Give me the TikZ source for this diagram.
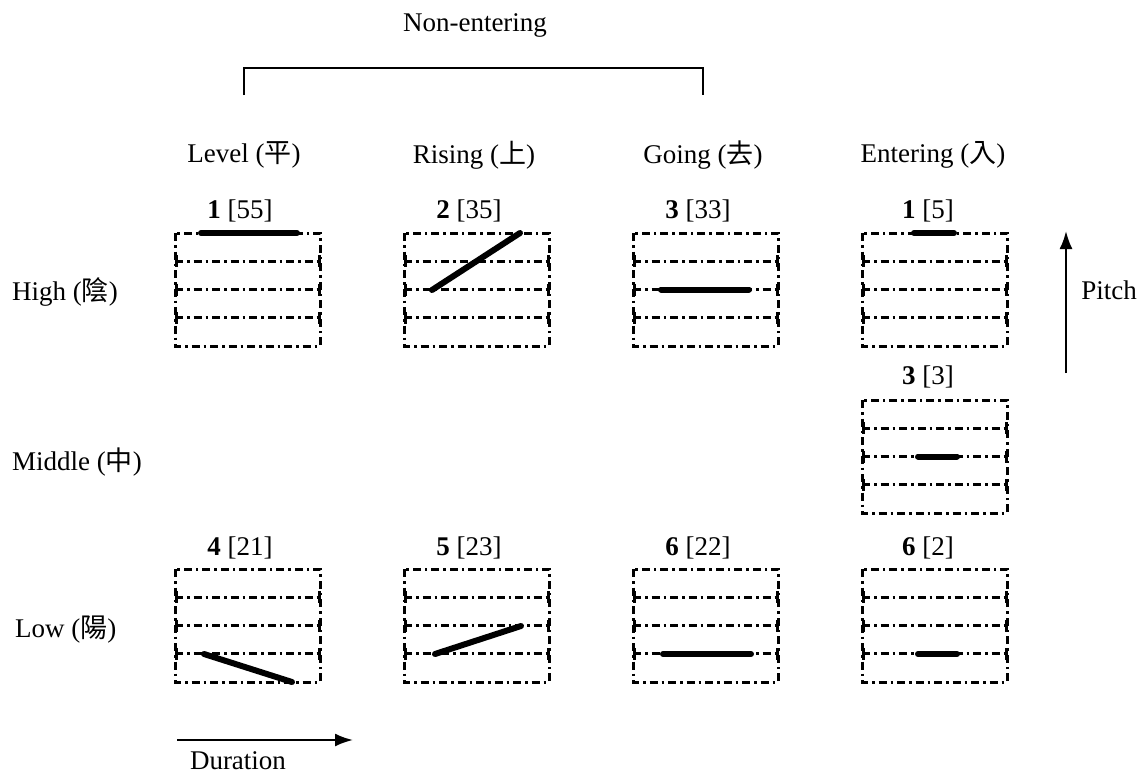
\documentclass[tikz,border=0pt]{standalone}
\usepackage{fontspec}
\setmainfont{Liberation Serif}
\newfontfamily\cjk{Noto Sans CJK TC}
\usetikzlibrary{arrows.meta}
\tikzset{
  dd/.style={line width=3pt, dash pattern=on 8pt off 4pt on 2.5pt off 4pt},
  tick/.style={line width=3pt},
  contour/.style={line width=6pt, line cap=round},
  lbl/.style={font=\fontsize{27}{32}\selectfont, inner sep=0pt},
  axis/.style={line width=2.2pt, -{Latex[length=18pt,width=13pt]}},
}
\newcommand\tonebox[2]{%
  \draw[dd] (#1,#2) rectangle ++(145,113);
  \foreach \k in {1,2,3} {
    \draw[dd] (#1,#2+28.25*\k) -- ++(145,0);
    \draw[tick] (#1+1,#2+28.25*\k-6) -- ++(0,12);
    \draw[tick] (#1+144,#2+28.25*\k-6) -- ++(0,12);
  }
}
\begin{document}
\begin{tikzpicture}[x=1pt,y=-1pt]
\useasboundingbox (0,0) rectangle (1138,776);
% header
\node[lbl] (ne) at (475,25) {Non-entering};
\coordinate (bl) at (244,95);
\coordinate (br) at (703,95);
\draw[line width=2pt] (bl) -- (244,68) -- (703,68) -- (br);
\node[lbl] (lev) at (244,155) {Level ({\cjk 平})};
\node[lbl] (ris) at (474,155) {Rising ({\cjk 上})};
\node[lbl] (goi) at (703,155) {Going ({\cjk 去})};
\node[lbl] (ent) at (933,155) {Entering ({\cjk 入})};
% row labels
\node[lbl, anchor=west] (hi) at (12,292) {High ({\cjk 陰})};
\node[lbl, anchor=west] (mi) at (12,462) {Middle ({\cjk 中})};
\node[lbl, anchor=west] (lo) at (15,630) {Low ({\cjk 陽})};
% tone labels
\node[lbl] (t1) at (240,211) {\textbf{1} [55]};
\node[lbl] (t2) at (469,211) {\textbf{2} [35]};
\node[lbl] (t3) at (698,211) {\textbf{3} [33]};
\node[lbl] (e1) at (928,211) {\textbf{1} [5]};
\node[lbl] (e3) at (928,377) {\textbf{3} [3]};
\node[lbl] (t4) at (240,548) {\textbf{4} [21]};
\node[lbl] (t5) at (469,548) {\textbf{5} [23]};
\node[lbl] (t6) at (698,548) {\textbf{6} [22]};
\node[lbl] (e6) at (928,548) {\textbf{6} [2]};
% boxes
\tonebox{175}{233}
\tonebox{404}{233}
\tonebox{633}{233}
\tonebox{862}{233}
\tonebox{862}{400}
\tonebox{175}{569}
\tonebox{404}{569}
\tonebox{633}{569}
\tonebox{862}{569}
% contours
\draw[contour] (201,233) -- (297,233);
\draw[contour] (432,290) -- (520,233);
\draw[contour] (661,289.5) -- (749,289.5);
\draw[contour] (914,233) -- (954,233);
\draw[contour] (918,456.5) -- (957,456.5);
\draw[contour] (204,654) -- (292,682);
\draw[contour] (435,654) -- (521,626);
\draw[contour] (663,654) -- (751,654);
\draw[contour] (918,654) -- (957,654);
% axes
\coordinate (p0) at (1066,373);
\coordinate (p1) at (1066,231);
\draw[axis] (p0) -- (p1);
\node[lbl] (pitch) at (1109,290) {Pitch};
\coordinate (d0) at (177,740);
\coordinate (d1) at (353,740);
\draw[axis] (d0) -- (d1);
\node[lbl] (dur) at (238,761) {Duration};
\end{tikzpicture}
\end{document}
